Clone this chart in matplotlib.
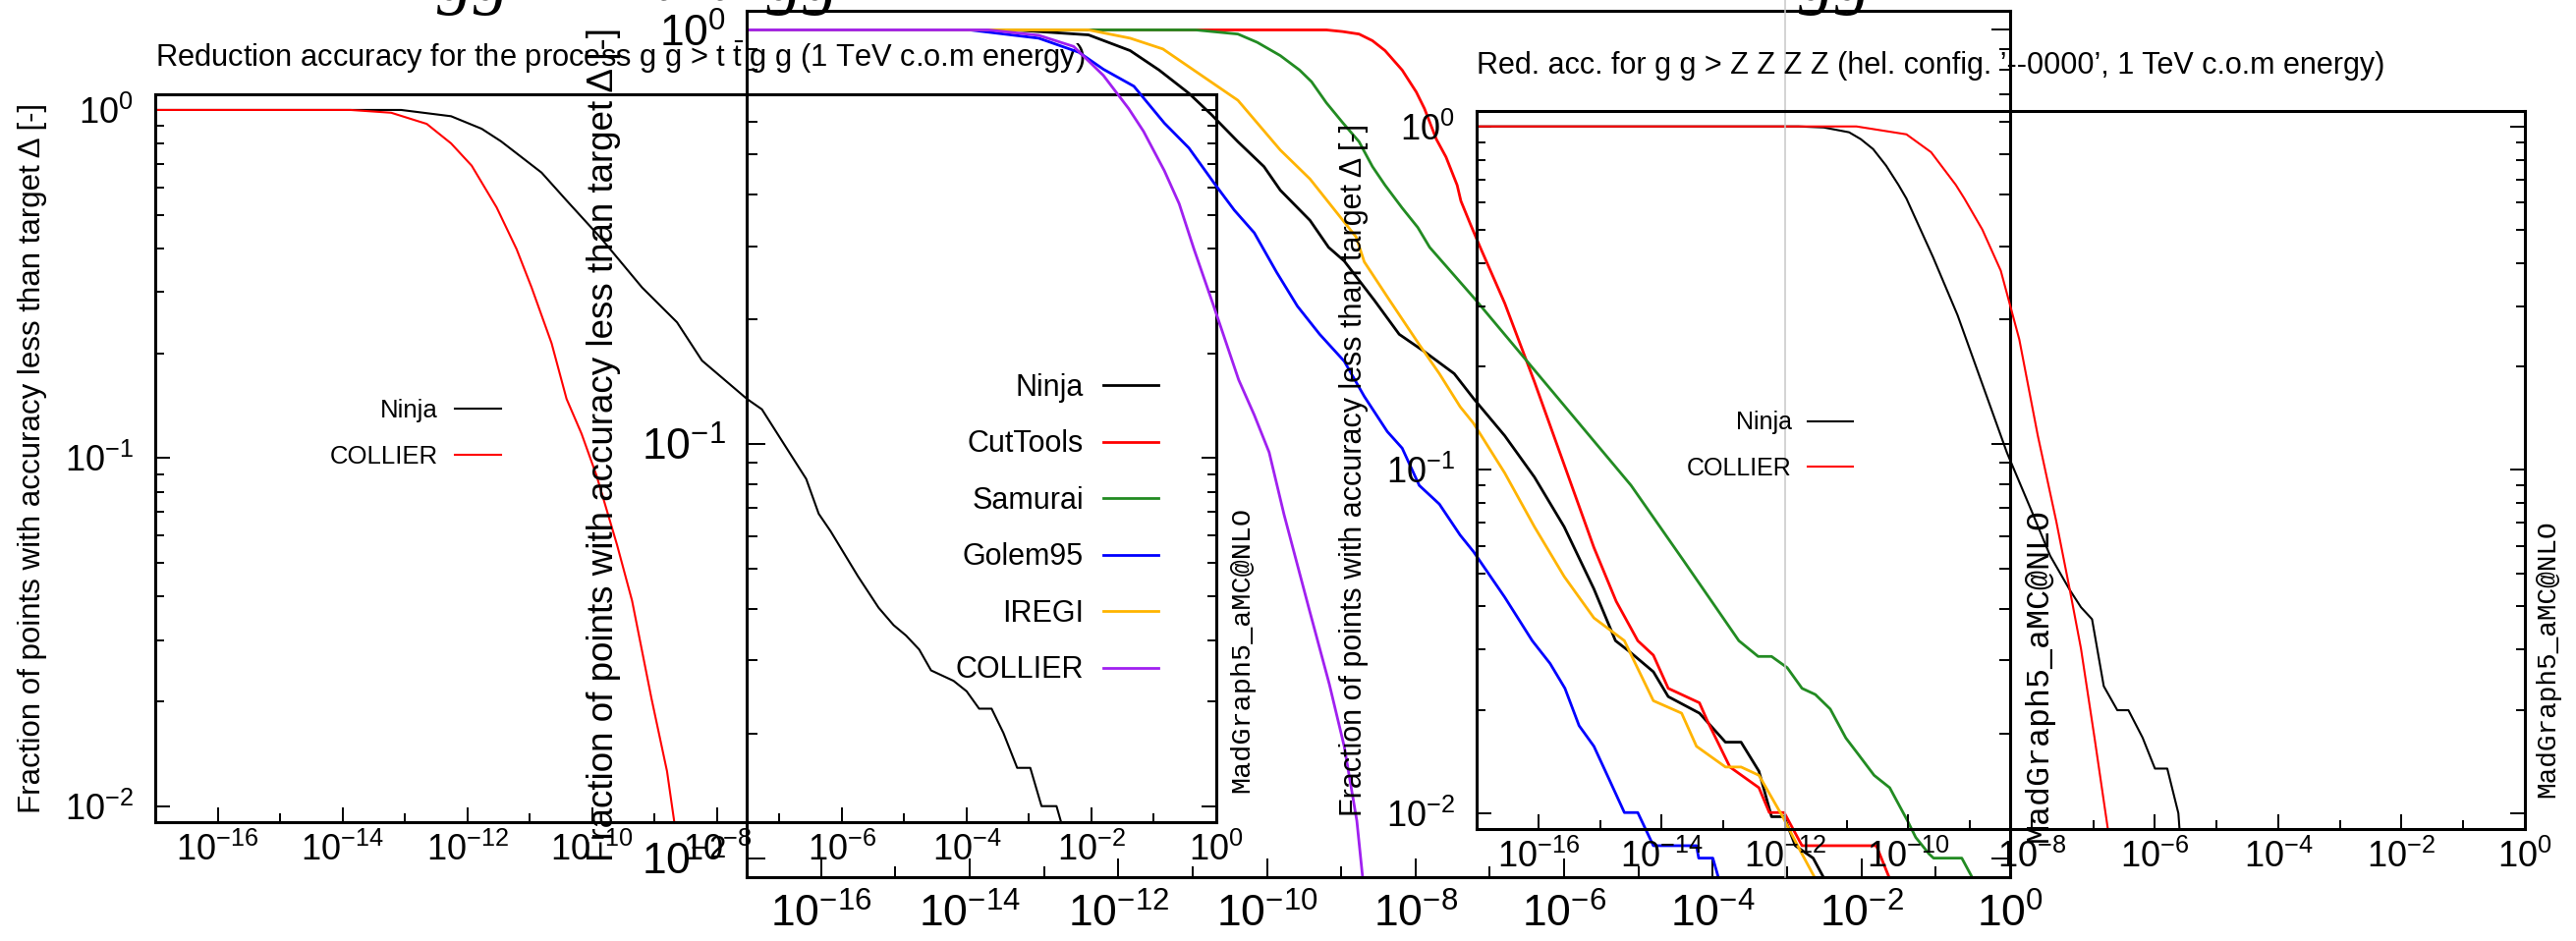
import matplotlib
matplotlib.use("Agg")
import matplotlib.pyplot as plt
import numpy as np
from matplotlib.ticker import FixedLocator, LogLocator, NullFormatter, LogFormatterSciNotation

plt.rcParams['font.family'] = ['Liberation Sans', 'DejaVu Sans']
plt.rcParams['mathtext.fontset'] = 'custom'
plt.rcParams['mathtext.rm'] = 'Liberation Sans'
plt.rcParams['mathtext.it'] = 'Liberation Sans:italic'
plt.rcParams['mathtext.default'] = 'regular'
plt.rcParams['axes.unicode_minus'] = False

YLABEL = "Fraction of points with accuracy less than target Δ [-]"
MG5 = "MadGraph5_aMC@NLO"

# ---------------------------------------------------------------
# Data: log10(target Delta) vs log10(fraction)
# ---------------------------------------------------------------
# left panel: g g > t t~ g g, Ninja vs COLLIER
ttgg_ninja_x = [-17, -13.06, -12.26, -11.77, -11.46, -10.81, -10.41, -9.85, -9.2, -8.64, -8.24,
                -7.52, -7.28, -6.89, -6.57, -6.37, -6.18, -5.74, -5.41, -5.17, -4.97, -4.76,
                -4.57, -4.21, -4.0, -3.8, -3.6, -3.41, -3.19, -2.98, -2.8, -2.56, -2.48]
ttgg_ninja_y = [0, 0, -0.018, -0.054, -0.09, -0.18, -0.26, -0.37, -0.51, -0.61, -0.72,
                -0.83, -0.86, -0.97, -1.06, -1.16, -1.21, -1.34, -1.43, -1.48, -1.51, -1.55,
                -1.61, -1.64, -1.67, -1.72, -1.72, -1.79, -1.89, -1.89, -2.0, -2.0, -2.05]
ttgg_collier_x = [-17, -13.87, -13.22, -12.65, -12.26, -11.93, -11.53, -11.21, -10.97, -10.81,
                  -10.65, -10.41, -10.17, -9.93, -9.6, -9.36, -9.05, -8.8, -8.68]
ttgg_collier_y = [0, 0, -0.008, -0.04, -0.096, -0.16, -0.28, -0.4, -0.51, -0.59,
                  -0.67, -0.83, -0.93, -1.05, -1.25, -1.41, -1.69, -1.9, -2.05]

# middle panel: g g > t t~ g g, all reduction tools
all_ninja_x = [-17, -13.4, -12.4, -11.84, -11.45, -11.05, -10.75, -10.39, -10.04, -9.82, -9.42,
               -9.17, -8.96, -8.55, -8.22, -7.88, -7.48, -7.22, -6.8, -6.4, -6.0, -5.6, -5.31,
               -5.13, -4.8, -4.6, -4.18, -3.83, -3.62, -3.38, -3.21, -3.04, -2.89, -2.65, -2.5]
all_ninja_y = [0, 0, -0.012, -0.05, -0.097, -0.153, -0.204, -0.27, -0.33, -0.387, -0.46,
               -0.525, -0.558, -0.654, -0.735, -0.777, -0.83, -0.89, -0.98, -1.08, -1.2, -1.35, -1.475,
               -1.5, -1.55, -1.61, -1.65, -1.72, -1.72, -1.79, -1.9, -1.9, -1.97, -2.0, -2.05]
all_cuttools_x = [-17, -9.2, -8.98, -8.76, -8.58, -8.41, -8.18, -7.99, -7.88, -7.72, -7.59, -7.44,
                  -7.39, -7.26, -7.13, -6.8, -6.4, -6.0, -5.6, -5.3, -5.01, -4.8, -4.6, -4.18,
                  -4.07, -3.77, -3.38, -3.24, -3.04, -2.8, -1.8, -1.62]
all_cuttools_y = [0, 0, -0.004, -0.01, -0.026, -0.05, -0.097, -0.15, -0.19, -0.264, -0.307, -0.375,
                  -0.413, -0.47, -0.525, -0.66, -0.85, -1.05, -1.25, -1.38, -1.475, -1.51, -1.59, -1.625,
                  -1.67, -1.78, -1.83, -1.89, -1.89, -1.97, -1.97, -2.05]
all_samurai_x = [-17, -10.96, -10.39, -10.13, -9.82, -9.56, -9.4, -9.2, -8.98, -8.76, -8.58, -8.41,
                 -8.18, -7.97, -7.81, -7.2, -6.5, -5.8, -5.1, -4.4, -3.65, -3.39, -3.21, -3.0, -2.8,
                 -2.62, -2.42, -2.21, -2.04, -1.83, -1.62, -1.38, -1.27, -1.09, -1.03, -0.65, -0.5]
all_samurai_y = [0, 0, -0.01, -0.03, -0.062, -0.097, -0.125, -0.176, -0.224, -0.27, -0.33, -0.375,
                 -0.43, -0.477, -0.525, -0.65, -0.8, -0.95, -1.1, -1.28, -1.475, -1.513, -1.513, -1.54, -1.59,
                 -1.605, -1.64, -1.71, -1.75, -1.8, -1.83, -1.91, -1.95, -1.99, -2.0, -2.0, -2.05]
all_golem_x = [-17, -14.0, -13.07, -12.53, -12.2, -11.79, -11.38, -11.05, -10.71, -10.44, -10.17,
               -9.87, -9.59, -9.29, -8.96, -8.69, -8.38, -8.18, -7.95, -7.68, -7.4, -7.22, -6.8,
               -6.43, -6.19, -5.99, -5.8, -5.6, -5.42, -5.19, -5.01, -4.8, -4.22, -4.19, -4.0, -3.92]
all_golem_y = [0, 0, -0.02, -0.054, -0.095, -0.136, -0.225, -0.285, -0.37, -0.435, -0.49,
               -0.585, -0.667, -0.735, -0.8, -0.885, -0.97, -1.01, -1.1, -1.145, -1.22, -1.26, -1.37,
               -1.475, -1.53, -1.59, -1.68, -1.73, -1.8, -1.89, -1.89, -1.97, -1.97, -2.0, -2.0, -2.05]
all_iregi_x = [-17, -12.4, -11.84, -11.4, -10.96, -10.39, -9.82, -9.42, -9.11, -8.8, -8.69, -8.36,
               -7.95, -7.68, -7.4, -7.22, -6.8, -6.4, -6.0, -5.6, -5.19, -5.07, -4.8, -4.42, -4.22,
               -3.83, -3.62, -3.38, -3.06, -2.83, -2.62]
all_iregi_y = [0, 0, -0.02, -0.046, -0.1, -0.17, -0.29, -0.36, -0.43, -0.5, -0.56, -0.65,
               -0.76, -0.83, -0.91, -0.95, -1.07, -1.2, -1.32, -1.42, -1.475, -1.52, -1.62, -1.65, -1.73,
               -1.78, -1.78, -1.8, -1.9, -1.98, -2.05]
all_collier_x = [-17, -13.75, -13.07, -12.6, -12.2, -11.86, -11.66, -11.38, -11.18, -10.98, -10.71,
                 -10.38, -10.17, -9.97, -9.77, -9.43, -9.16, -8.96, -8.79, -8.71]
all_collier_y = [0, 0, -0.013, -0.04, -0.11, -0.19, -0.245, -0.34, -0.42, -0.53, -0.67,
                 -0.845, -0.93, -1.02, -1.17, -1.4, -1.58, -1.73, -1.91, -2.05]

# right panel: g g > Z Z Z Z, Ninja vs COLLIER
zzzz_ninja_x = [-17, -11.78, -11.37, -10.96, -10.77, -10.57, -10.36, -10.16, -10.03, -9.6, -9.2,
                -8.8, -8.4, -8.0, -7.7, -7.38, -7.2, -7.02, -6.83, -6.61, -6.43, -6.2, -6.0,
                -5.8, -5.62, -5.6]
zzzz_ninja_y = [0, 0, -0.003, -0.017, -0.037, -0.066, -0.114, -0.17, -0.21, -0.38, -0.55,
                -0.75, -0.95, -1.12, -1.25, -1.35, -1.4, -1.435, -1.63, -1.7, -1.7, -1.78, -1.87,
                -1.87, -2.0, -2.05]
zzzz_collier_x = [-17, -10.84, -10.03, -9.63, -9.23, -9.09, -8.8, -8.5, -8.2, -7.9, -7.6, -7.38,
                  -7.2, -6.98, -6.76]
zzzz_collier_y = [0, 0, -0.023, -0.075, -0.17, -0.21, -0.3, -0.42, -0.62, -0.9, -1.15, -1.35,
                  -1.52, -1.78, -2.05]

highlight_delta = 1e-12   # grey guide line in the ZZZZ panel

COL = {"Ninja": "black", "CutTools": "#ff0000", "Samurai": "#228b22",
       "Golem95": "#0000ff", "IREGI": "#ffb400", "COLLIER": "#a020f0"}
SERIF_IT = ["Liberation Serif", "DejaVu Serif"]
MONO = ["Liberation Mono", "DejaVu Sans Mono"]


def style_panel(ax, tick_fs, major_len, minor_len, xpad, ypad):
    ax.set_facecolor("none")
    ax.set_xscale("log")
    ax.set_yscale("log")
    ax.set_xlim(1e-17, 1.0)
    ax.set_ylim(10 ** -2.046, 10 ** 0.045)
    ax.xaxis.set_major_locator(FixedLocator(10.0 ** np.arange(-16, 1, 2)))
    ax.xaxis.set_minor_locator(FixedLocator(10.0 ** np.arange(-15, 0, 2)))
    ax.xaxis.set_major_formatter(LogFormatterSciNotation())
    ax.xaxis.set_minor_formatter(NullFormatter())
    ax.yaxis.set_major_locator(LogLocator(base=10.0, numticks=10))
    ax.yaxis.set_minor_locator(LogLocator(base=10.0, subs=np.arange(2, 10), numticks=10))
    ax.yaxis.set_major_formatter(LogFormatterSciNotation())
    ax.yaxis.set_minor_formatter(NullFormatter())
    ax.tick_params(which="both", direction="in", top=False, right=True, width=1.4,
                   labelsize=tick_fs)
    ax.tick_params(which="major", length=major_len)
    ax.tick_params(which="minor", length=minor_len)
    ax.tick_params(axis="x", pad=xpad)
    ax.tick_params(axis="y", pad=ypad)
    for sp in ax.spines.values():
        sp.set_linewidth(2.2)


def curve(ax, lx, ly, name, lw, color=None):
    ax.plot(10.0 ** np.array(lx), 10.0 ** np.array(ly), color=color or COL[name],
            lw=lw, label=name)


def add_legend(ax, anchor, fs):
    ax.legend(loc="center right", bbox_to_anchor=anchor, frameon=False, markerfirst=False,
              handlelength=1.85, handletextpad=0.65, labelspacing=0.9, borderpad=0,
              borderaxespad=0, fontsize=fs)


fig = plt.figure(figsize=(26.22, 9.58), dpi=100)

# big titles that run off the top edge; only the descenders show
fig.text(0.1697, 1.0, "gg  →  t  t  gg", fontsize=53, style="italic", va="baseline", family=SERIF_IT)
fig.text(0.6985, 1.0, "gg → Z Z Z Z", fontsize=53, style="italic", va="baseline", family=SERIF_IT)

# ---- left panel ----
axA = fig.add_axes([0.06026, 0.12630, 0.41190, 0.77349])
style_panel(axA, 26, 11, 6.5, 8, 16)
curve(axA, ttgg_ninja_x, ttgg_ninja_y, "Ninja", 1.5)
curve(axA, ttgg_collier_x, ttgg_collier_y, "COLLIER", 1.5, color="#ff0000")
axA.set_ylabel(YLABEL, fontsize=22.5, va="center")
axA.yaxis.set_label_coords(-0.1157, 0.5)
axA.text(0.0, 1.051, r"Reduction accuracy for the process g g > t $\bar{\mathrm{t}}$ g g (1 TeV c.o.m energy)",
         transform=axA.transAxes, fontsize=22.2, va="center", ha="left")
axA.text(1.024, 0.04, MG5, transform=axA.transAxes, rotation=90, ha="center", va="bottom",
         fontsize=20.5, family=MONO)
add_legend(axA, (0.326, 0.534), 18.5)

# ---- middle panel ----
axB = fig.add_axes([0.28986, 0.06785, 0.49046, 0.92015])
style_panel(axB, 32, 14, 8, 12, 15)
curve(axB, all_ninja_x, all_ninja_y, "Ninja", 2.0)
curve(axB, all_cuttools_x, all_cuttools_y, "CutTools", 2.0)
curve(axB, all_samurai_x, all_samurai_y, "Samurai", 2.0)
curve(axB, all_golem_x, all_golem_y, "Golem95", 2.0)
curve(axB, all_iregi_x, all_iregi_y, "IREGI", 2.0)
curve(axB, all_collier_x, all_collier_y, "COLLIER", 2.0)
axB.set_ylabel(YLABEL, fontsize=26.5, va="center")
axB.yaxis.set_label_coords(-0.1135, 0.5)
axB.text(1.0226, 0.041, MG5, transform=axB.transAxes, rotation=90, ha="center", va="bottom",
         fontsize=24, family=MONO)
add_legend(axB, (0.326, 0.402), 22)

# ---- right panel ----
axC = fig.add_axes([0.57323, 0.11900, 0.40694, 0.76305])
style_panel(axC, 26, 11, 6.5, 8, 16)
curve(axC, zzzz_ninja_x, zzzz_ninja_y, "Ninja", 1.5)
curve(axC, zzzz_collier_x, zzzz_collier_y, "COLLIER", 1.5, color="#ff0000")
axC.axvline(highlight_delta, ymin=-0.067, ymax=1.16, color="#c8c8c8", lw=1.1, clip_on=False)
axC.set_ylabel(YLABEL, fontsize=22, va="center")
axC.yaxis.set_label_coords(-0.1171, 0.5)
axC.text(0.0, 1.063, "Red. acc. for g g > Z Z Z Z (hel. config. ’--0000’, 1 TeV c.o.m energy)",
         transform=axC.transAxes, fontsize=22, va="center", ha="left")
axC.text(1.0216, 0.044, MG5, transform=axC.transAxes, rotation=90, ha="center", va="bottom",
         fontsize=20, family=MONO)
add_legend(axC, (0.359, 0.534), 18)

fig.savefig("out.png", dpi=100, facecolor="white")
